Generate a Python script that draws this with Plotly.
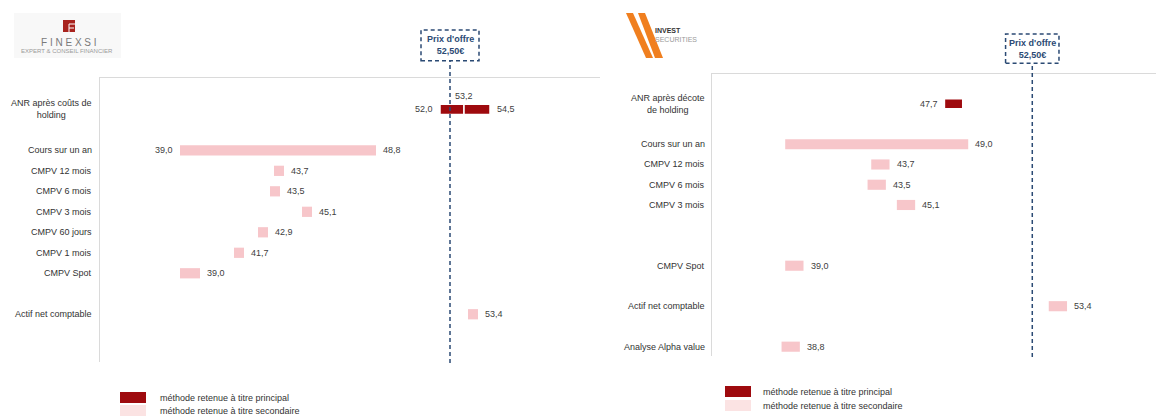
import plotly.graph_objects as go

W, H = 1156, 419
FONT = "Liberation Sans, Arial, sans-serif"
TXT = "#404040"
DARK_RED = "#9E0A0E"
PINK = "#F7C6CA"
PINK_LEGEND = "#FBE3E3"
NAVY = "#2B4A74"
AXIS_GREY = "#DADADA"
OFFER_PRICE = 52.5

# ---- Finexsi panel ----
fx_labels = ["ANR après coûts de<br>holding", "Cours sur un an", "CMPV 12 mois", "CMPV 6 mois",
             "CMPV 3 mois", "CMPV 60 jours", "CMPV 1 mois", "CMPV Spot", "Actif net comptable"]
fx_low = [52.0, 39.0, 43.7, 43.5, 45.1, 42.9, 41.7, 39.0, 53.4]
fx_high = [54.5, 48.8, None, None, None, None, None, None, None]
fx_mid = [53.2, None, None, None, None, None, None, None, None]
fx_principal = [True, False, False, False, False, False, False, False, False]

# ---- Invest Securities panel ----
is_labels = ["ANR après décote<br>de holding", "Cours sur un an", "CMPV 12 mois", "CMPV 6 mois",
             "CMPV 3 mois", "CMPV Spot", "Actif net comptable", "Analyse Alpha value"]
is_low = [47.7, 39.0, 43.7, 43.5, 45.1, 39.0, 53.4, 38.8]
is_high = [None, 49.0, None, None, None, None, None, None]
is_principal = [True, False, False, False, False, False, False, False]

legend_texts = ["méthode retenue à titre principal", "méthode retenue à titre secondaire"]

# row slots (blank rows separate the groups) and stub widths for single-value marks
fx_rows = [0, 2, 3, 4, 5, 6, 7, 8, 10]
is_rows = [0, 2, 3, 4, 5, 8, 10, 12]
fx_stub = [0.5, 0.5, 0.5, 0.5, 0.5, 0.5, 0.5, 1.0, 0.5]
is_stub = [1.0] * 8
fx_show_low = [True, True] + [True] * 7
is_show_low = [True, False] + [True] * 6
is_label_side = ["left"] + ["right"] * 7


def px(x):
    return x / W


def py(y):
    return 1 - y / H


fig = go.Figure()
annotations = []
shapes = []


def add_panel(xa, ya, labels, rows, low, high, principal, stubs, show_low,
              label_x, mid=None, sides=None):
    xref = xa.replace("axis", "")
    yref = ya.replace("axis", "")
    for kind in (False, True):
        ys, bases, lens = [], [], []
        for i, r in enumerate(rows):
            if principal[i] != kind:
                continue
            if high[i] is None:
                ys.append(r); bases.append(low[i]); lens.append(stubs[i])
            elif mid is not None and mid[i] is not None:
                ys += [r, r]
                bases += [low[i], mid[i]]
                lens += [mid[i] - low[i], high[i] - mid[i]]
            else:
                ys.append(r); bases.append(low[i]); lens.append(high[i] - low[i])
        if not ys:
            continue
        fig.add_trace(go.Bar(
            orientation="h", y=ys, x=lens, base=bases, width=0.5,
            marker=dict(color=DARK_RED if kind else PINK,
                        line=dict(color="white", width=1.5 if kind else 0)),
            xaxis=xref, yaxis=yref, showlegend=False, hoverinfo="skip"))

    def fmt(v):
        return f"{v:.1f}".replace(".", ",")

    vfont = dict(family=FONT, size=9, color=TXT)
    for i, r in enumerate(rows):
        # category label
        annotations.append(dict(x=px(label_x), xref="paper", y=r, yref=yref, text=labels[i],
                                xanchor="right", yanchor="middle", align="center",
                                showarrow=False, font=dict(family=FONT, size=9, color="#333333")))
        side = sides[i] if sides else "right"
        if high[i] is None:
            if side == "right":
                annotations.append(dict(x=low[i] + stubs[i], xref=xref, y=r, yref=yref,
                                        text=fmt(low[i]), xanchor="left", xshift=5,
                                        showarrow=False, font=vfont))
            else:
                annotations.append(dict(x=low[i], xref=xref, y=r, yref=yref,
                                        text=fmt(low[i]), xanchor="right", xshift=-4,
                                        showarrow=False, font=vfont))
        else:
            if show_low[i]:
                annotations.append(dict(x=low[i], xref=xref, y=r, yref=yref,
                                        text=fmt(low[i]), xanchor="right", xshift=-5,
                                        showarrow=False, font=vfont))
            annotations.append(dict(x=high[i], xref=xref, y=r, yref=yref,
                                    text=fmt(high[i]), xanchor="left", xshift=5,
                                    showarrow=False, font=vfont))
            if mid is not None and mid[i] is not None:
                annotations.append(dict(x=mid[i], xref=xref, y=r, yref=yref,
                                        text=fmt(mid[i]), xanchor="center", yshift=13,
                                        showarrow=False, font=vfont))


add_panel("xaxis", "yaxis", fx_labels, fx_rows, fx_low, fx_high, fx_principal, fx_stub,
          fx_show_low, 94, mid=fx_mid)
add_panel("xaxis2", "yaxis2", is_labels, is_rows, is_low, is_high, is_principal, is_stub,
          is_show_low, 707, sides=is_label_side)

# offer price reference line and its dashed label box
for xref, box_top, box_bot, half, bottom in (("x", 30, 60.7, 29, 363), ("x2", 34, 63.3, 26.7, 357)):
    shapes.append(dict(type="line", xref=xref, yref="paper", x0=OFFER_PRICE, x1=OFFER_PRICE,
                       y0=py(bottom), y1=py(box_bot),
                       line=dict(color=NAVY, width=1.5, dash="4px,3px")))
    shapes.append(dict(type="rect", xref=xref, yref="paper", xsizemode="pixel",
                       xanchor=OFFER_PRICE, x0=-half, x1=half, y0=py(box_bot), y1=py(box_top),
                       line=dict(color=NAVY, width=1.5, dash="4px,3px")))
    annotations.append(dict(x=OFFER_PRICE, xref=xref, y=py((box_top + box_bot) / 2), yref="paper",
                            text="<b>Prix d'offre</b><br><b>52,50€</b>", showarrow=False,
                            xanchor="center", yanchor="middle",
                            font=dict(family=FONT, size=9, color=NAVY)))

# legends
for sx, tx, ys in ((120, 158, (392, 405)), (725, 761, (386, 400))):
    for j, (y0, col) in enumerate(zip(ys, (DARK_RED, PINK_LEGEND))):
        shapes.append(dict(type="rect", xref="paper", yref="paper", x0=px(sx), x1=px(sx + 26),
                           y0=py(y0 + 11), y1=py(y0), fillcolor=col, line=dict(width=0)))
        annotations.append(dict(x=px(tx), xref="paper", y=py(y0 + 5.5), yref="paper",
                                text=legend_texts[j], xanchor="left", yanchor="middle",
                                showarrow=False, font=dict(family=FONT, size=9, color="#333333")))

# Finexsi logo
shapes.append(dict(type="rect", xref="paper", yref="paper", x0=px(14), x1=px(121),
                   y0=py(58), y1=py(13), fillcolor="#F8F8F8", line=dict(width=0), layer="below"))
shapes.append(dict(type="rect", xref="paper", yref="paper", x0=px(63), x1=px(75),
                   y0=py(32), y1=py(20), fillcolor="#A8231E", line=dict(width=0)))
for x0, y0, x1, y1 in ((69, 24, 69, 32), (69, 24, 75, 24), (69, 28, 74, 28)):
    shapes.append(dict(type="line", xref="paper", yref="paper", x0=px(x0), x1=px(x1),
                       y0=py(y0), y1=py(y1), line=dict(color="white", width=1)))
annotations.append(dict(x=px(69), xref="paper", y=py(42.5), yref="paper", text="F I N E X S I",
                        showarrow=False, xanchor="center", yanchor="middle",
                        font=dict(family=FONT, size=10, color="#7A7A7A")))
annotations.append(dict(x=px(67), xref="paper", y=py(51.5), yref="paper",
                        text="EXPERT &amp; CONSEIL FINANCIER", showarrow=False,
                        xanchor="center", yanchor="middle",
                        font=dict(family=FONT, size=6, color="#9A9A9A")))

# Invest Securities logo
for pts in (((626, 13), (633, 13), (653, 58), (646, 58)),
            ((638, 13), (645, 13), (663, 58), (655, 58))):
    path = "M " + " L ".join(f"{px(x)},{py(y)}" for x, y in pts) + " Z"
    shapes.append(dict(type="path", xref="paper", yref="paper", path=path,
                       fillcolor="#F07F1F", line=dict(width=0)))
annotations.append(dict(x=px(653), xref="paper", y=py(31), yref="paper", text="<b>INVEST</b>",
                        showarrow=False, xanchor="left", yanchor="middle",
                        font=dict(family=FONT, size=7, color="#333333")))
annotations.append(dict(x=px(653), xref="paper", y=py(40), yref="paper", text="SECURITIES",
                        showarrow=False, xanchor="left", yanchor="middle",
                        font=dict(family=FONT, size=7, color="#9A9A9A")))

axis_common = dict(showgrid=False, zeroline=False, showticklabels=False, ticks="",
                   showline=True, linecolor=AXIS_GREY, linewidth=1, fixedrange=True)

fig.update_layout(
    width=W, height=H, margin=dict(l=0, r=0, t=0, b=0),
    paper_bgcolor="white", plot_bgcolor="white", barmode="overlay",
    showlegend=False,
    xaxis=dict(domain=[px(100), px(600)], range=[35, 60], side="top", anchor="y", **axis_common),
    yaxis=dict(domain=[py(362), py(78)], range=[12.33, -1.53], anchor="x", **axis_common),
    xaxis2=dict(domain=[px(712), 1.0], range=[35, 59.26], side="top", anchor="y2", **axis_common),
    yaxis2=dict(domain=[py(356), py(74)], range=[12.46, -1.47], anchor="x2", **axis_common),
    shapes=shapes, annotations=annotations,
)

fig.write_html("out.html")
